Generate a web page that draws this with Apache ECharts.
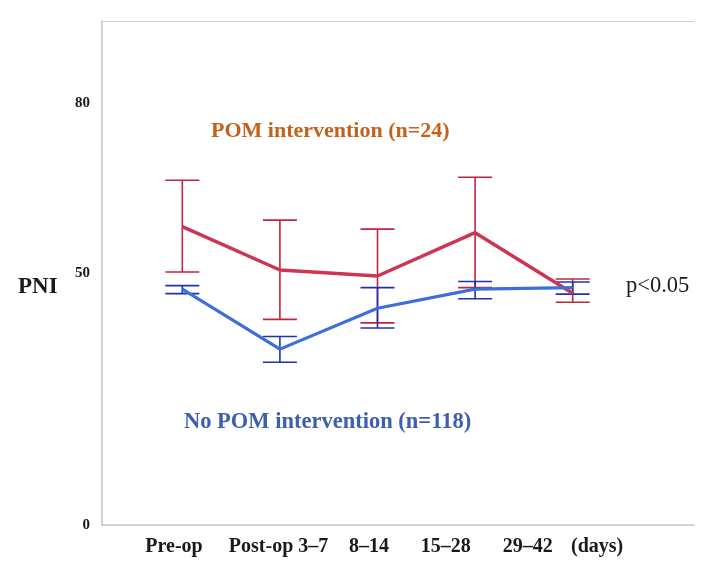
<!DOCTYPE html>
<html>
<head>
<meta charset="utf-8">
<script src="https://cdn.jsdelivr.net/npm/echarts@6/dist/echarts.min.js"></script>
<style>html,body{margin:0;padding:0;background:#fff}#c{width:710px;height:575px}</style>
</head>
<body>
<div id="c"></div>
<script>
// ---- data ----
var categories = ['Pre-op', 'Post-op 3\u20137', '8\u201314', '15\u201328', '29\u201342'];
var unitLabel = '(days)';
var pomMean = [59.2, 50.6, 49.4, 58.0, 46.0];
var pomLow = [50.2, 40.8, 40.1, 47.1, 44.2];
var pomHigh = [68.4, 60.5, 58.7, 69.0, 48.8];
var noPomMean = [46.8, 34.9, 43.0, 46.8, 47.1];
var noPomLow = [45.9, 32.3, 39.1, 44.9, 45.8];
var noPomHigh = [47.5, 37.4, 47.1, 48.3, 48.2];
var yTickLabels = [0, 50, 80];

// ---- layout ----
var xLabelAt = [-0.085, 0.986, 1.913, 2.70, 3.54, 4.25];
var xLabelText = categories.concat([unitLabel]);
var serif = '"Liberation Serif", "DejaVu Serif", serif';

function pts(arr) { return arr.map(function (v, i) { return [i, v]; }); }
function bars(lo, hi) { return lo.map(function (v, i) { return [i, v, hi[i]]; }); }

function errRender(color) {
  return function (params, api) {
    var x = api.value(0);
    var a = api.coord([x, api.value(2)]);
    var b = api.coord([x, api.value(1)]);
    var w = 17;
    var st = { stroke: color, lineWidth: 1.6 };
    return {
      type: 'group',
      children: [
        { type: 'line', shape: { x1: a[0], y1: a[1], x2: b[0], y2: b[1] }, style: st },
        { type: 'line', shape: { x1: a[0] - w, y1: a[1], x2: a[0] + w, y2: a[1] }, style: st },
        { type: 'line', shape: { x1: b[0] - w, y1: b[1], x2: b[0] + w, y2: b[1] }, style: st }
      ]
    };
  };
}

var chart = echarts.init(document.getElementById('c'), null, { renderer: 'canvas' });
chart.setOption({
  animation: false,
  backgroundColor: '#ffffff',
  grid: { left: 102, top: 21, right: 16, bottom: 50 },
  xAxis: [{
    type: 'value', min: -0.823, max: 5.243, position: 'bottom',
    axisLine: { show: true, onZero: false, lineStyle: { color: '#c4c4c4', width: 1.5 } },
    axisTick: { show: false },
    splitLine: { show: false },
    axisLabel: {
      customValues: xLabelAt,
      margin: 12,
      fontFamily: serif, fontWeight: 'bold', fontSize: 20, color: '#1a1a1a',
      formatter: function (v) {
        for (var i = 0; i < xLabelAt.length; i++) { if (Math.abs(xLabelAt[i] - v) < 1e-6) return xLabelText[i]; }
        return '';
      }
    }
  }, {
    type: 'value', min: -0.823, max: 5.243, position: 'top',
    axisLine: { show: true, onZero: false, lineStyle: { color: '#d0d0d0', width: 1.2 } },
    axisTick: { show: false }, axisLabel: { show: false }, splitLine: { show: false }
  }],
  yAxis: {
    type: 'value', min: 0, max: 100,
    axisLine: { show: true, onZero: false, lineStyle: { color: '#c4c4c4', width: 1.5 } },
    axisTick: { show: true, customValues: [25, 50, 75], length: 2, lineStyle: { color: '#dddddd' } },
    splitLine: { show: false },
    axisLabel: {
      customValues: yTickLabels,
      margin: 12,
      fontFamily: serif, fontWeight: 'bold', fontSize: 15, color: '#1a1a1a',
      formatter: function (v) { return v === 80 ? '{hi|80}' : String(v); },
      rich: { hi: { fontFamily: serif, fontWeight: 'bold', fontSize: 15, color: '#1a1a1a', padding: [0, 0, 38, 0] } }
    }
  },
  series: [
    {
      type: 'custom', name: 'POM err', renderItem: errRender('#c3243f'),
      data: bars(pomLow, pomHigh), encode: { x: 0, y: [1, 2] }, z: 2
    },
    {
      type: 'custom', name: 'No POM err', renderItem: errRender('#1f33b0'),
      data: bars(noPomLow, noPomHigh), encode: { x: 0, y: [1, 2] }, z: 2
    },
    {
      type: 'line', name: 'POM intervention', data: pts(pomMean), showSymbol: false,
      lineStyle: { color: '#cc3654', width: 3.5 }, z: 3
    },
    {
      type: 'line', name: 'No POM intervention', data: pts(noPomMean), showSymbol: false,
      lineStyle: { color: '#3d6fd8', width: 3.2 }, z: 3
    }
  ],
  graphic: [
    { type: 'text', left: 211, top: 120, style: { text: 'POM intervention (n=24)', font: 'bold 22px ' + serif, fill: '#c4621c' } },
    { type: 'text', left: 184, top: 411, style: { text: 'No POM intervention (n=118)', font: 'bold 22.5px ' + serif, fill: '#3c5fae' } },
    { type: 'text', left: 626, top: 275, style: { text: 'p<0.05', font: '22.5px ' + serif, fill: '#1a1a1a' } },
    { type: 'text', left: 18, top: 276, style: { text: 'PNI', font: 'bold 23px ' + serif, fill: '#1a1a1a' } }
  ]
});
</script>
</body>
</html>
